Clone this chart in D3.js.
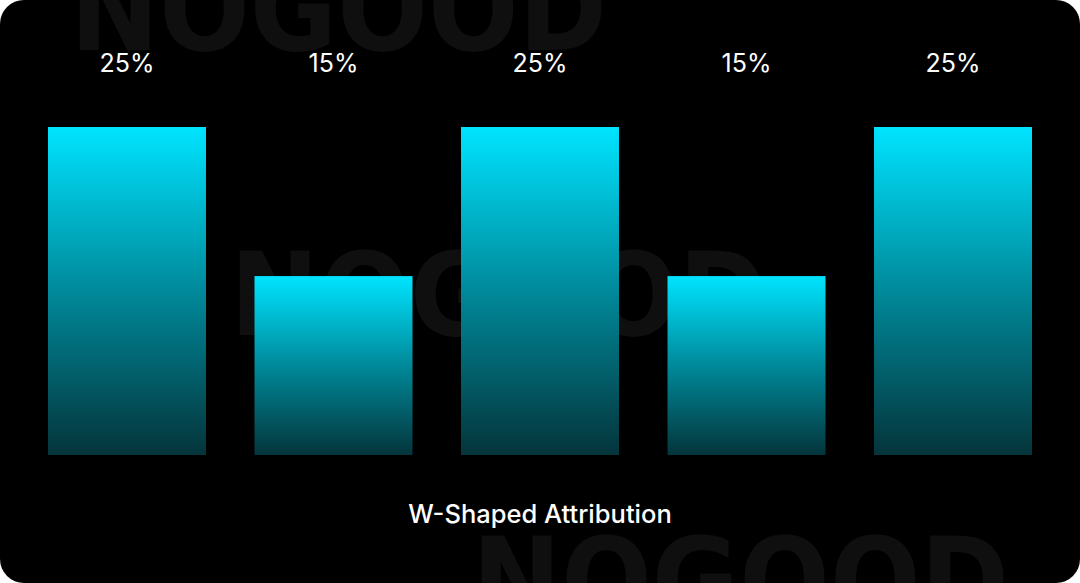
<!DOCTYPE html>
<html><head><meta charset="utf-8">
<script src="https://cdn.jsdelivr.net/npm/d3@7"></script>
<style>html,body{margin:0;padding:0;background:#fff;overflow:hidden}</style>
</head><body><div id="chart"></div>
<script>
const categories = ["First Touch", "Middle 1", "Lead Creation", "Middle 2", "Opportunity"];
const values = [25, 15, 25, 15, 25];
const valueLabels = ["25%", "15%", "25%", "15%", "25%"];
const title = "W-Shaped Attribution";
const watermark = "NOGOOD";

const W = 1080, H = 583;
const svg = d3.select("#chart").append("svg").attr("width", W).attr("height", H);

const defs = svg.append("defs");
const grad = defs.append("linearGradient").attr("id", "barGrad")
  .attr("x1", 0).attr("y1", 0).attr("x2", 0).attr("y2", 1);
grad.append("stop").attr("offset", "0%").attr("stop-color", "#00e4ff");
grad.append("stop").attr("offset", "50%").attr("stop-color", "#00899a");
grad.append("stop").attr("offset", "100%").attr("stop-color", "#04353b");

svg.append("rect").attr("width", W).attr("height", H).attr("rx", 24).attr("fill", "#000");

// watermarks
const wm = [{x: 70, y: 50}, {x: 230, y: 335}, {x: 472, y: 620}];
svg.append("g").selectAll("text").data(wm).join("text")
  .attr("x", d => d.x).attr("y", d => d.y)
  .attr("textLength", 537).attr("lengthAdjust", "spacingAndGlyphs")
  .attr("font-family", "DejaVu Sans").attr("font-weight", "bold")
  .attr("font-size", 116).attr("fill", "#0f0f0f")
  .text(watermark);

const x = d3.scaleBand().domain(categories).range([48, 1032]).paddingInner(0.235).paddingOuter(0);
const y = d3.scaleLinear().domain([3, 25]).range([455, 127]);

svg.append("g").selectAll("rect").data(values).join("rect")
  .attr("x", (d, i) => x(categories[i]))
  .attr("y", d => y(d))
  .attr("width", x.bandwidth())
  .attr("height", d => y(3) - y(d))
  .attr("fill", "url(#barGrad)");

svg.append("g").selectAll("text").data(valueLabels).join("text")
  .attr("x", (d, i) => x(categories[i]) + x.bandwidth() / 2)
  .attr("y", 72)
  .attr("text-anchor", "middle")
  .attr("font-family", "Inter").attr("font-size", 25).attr("fill", "#fff")
  .text(d => d);

svg.append("text").attr("x", 540).attr("y", 523).attr("text-anchor", "middle")
  .attr("font-family", "Inter").attr("font-weight", 500).attr("font-size", 25.5)
  .attr("fill", "#fff").text(title);
</script></body></html>
